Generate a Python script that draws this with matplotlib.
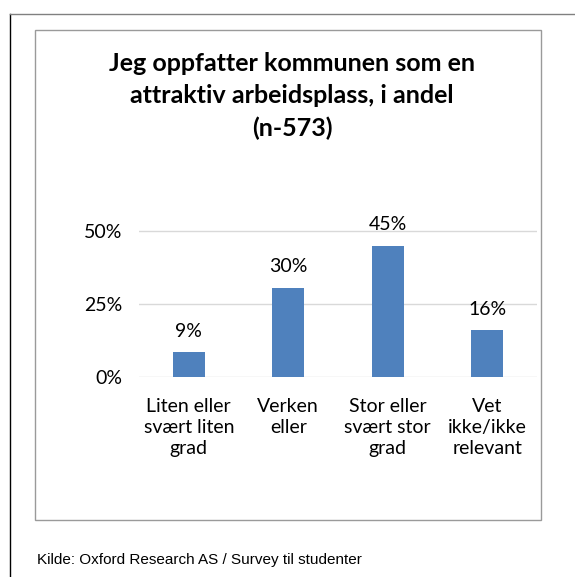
import matplotlib
matplotlib.use("Agg")
import matplotlib.pyplot as plt
from matplotlib.lines import Line2D
from matplotlib.patches import Rectangle

categories = ["Liten eller\nsvært liten\ngrad", "Verken\neller", "Stor eller\nsvært stor\ngrad", "Vet\nikke/ikke\nrelevant"]
values = [9, 30, 45, 16]
bar_heights = [8.5, 30.5, 45, 16]
yticks = [0, 25, 50]
ytick_labels = ["0%", "25%", "50%"]
title = "Jeg oppfatter kommunen som en\nattraktiv arbeidsplass, i andel\n(n-573)"
source = "Kilde: Oxford Research AS / Survey til studenter"

W, H = 575, 577
fig = plt.figure(figsize=(W/100, H/100), dpi=100)
fig.patch.set_facecolor("white")

def fx(x): return x / W
def fy(y): return 1 - y / H

# outer frame lines
fig.add_artist(Line2D([fx(10), fx(10)], [fy(14), fy(577)], color="black", lw=1.0))
fig.add_artist(Line2D([fx(10), fx(575)], [fy(14), fy(14)], color="#808080", lw=1.0))
# inner chart box
fig.add_artist(Rectangle((fx(35), fy(520)), fx(541) - fx(35), fy(30) - fy(520),
                         fill=False, edgecolor="#9a9a9a", lw=1.0))

font = "Lato"
ax = fig.add_axes([fx(139), fy(377), fx(537) - fx(139), (fy(231) - fy(377)) * (55/50)])
x = range(len(categories))
ax.bar(x, bar_heights, width=0.32, color="#4f81bd")
ax.set_xlim(-0.5, len(categories) - 0.5)
ax.set_ylim(0, 55)
ax.set_yticks(yticks)
ax.set_yticklabels(ytick_labels, fontsize=14, family=font)
ax.set_xticks(list(x))
ax.set_xticklabels(categories, fontsize=14, family=font, linespacing=1.28)
ax.tick_params(length=0, pad=12)
ax.tick_params(axis="x", pad=15)
for s in ax.spines.values():
    s.set_visible(False)
ax.yaxis.grid(True, color="#d9d9d9", lw=1)
ax.set_axisbelow(True)
ax.patch.set_alpha(0)
for i, v in enumerate(values):
    ax.annotate(f"{v}%", (i, bar_heights[i]), xytext=(0, 9), textcoords="offset points",
                ha="center", va="bottom", fontsize=14, family=font)

fig.text(fx(292), fy(96), title, ha="center", va="center", fontsize=18,
         fontweight="bold", family=font, linespacing=1.5)

fig.text(fx(37), fy(560), source, ha="left", va="center", fontsize=11,
         family="Liberation Sans")

fig.savefig("out.png", dpi=100)
